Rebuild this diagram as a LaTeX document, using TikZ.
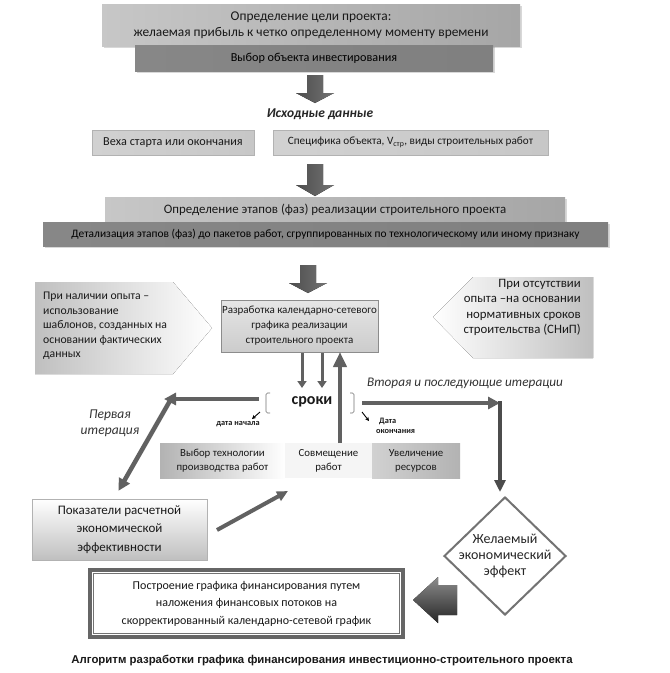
\documentclass[tikz,border=0pt]{standalone}
\usepackage{fontspec}
\setmainfont{Carlito}
\newfontfamily\capfont{Liberation Sans}
\usetikzlibrary{shapes.geometric,arrows.meta,shadows,calc}
\newcommand\blkdown[4]{%
  \fill[blkarrow] (#1-8,#2) -- (#1+8,#2) -- (#1+8,#3-#4) -- (#1+19,#3-#4) -- (#1,#3) -- (#1-19,#3-#4) -- (#1-8,#3-#4) -- cycle;}
\begin{document}
\begin{tikzpicture}[x=1pt,y=-1pt,
  box/.style={rectangle, inner sep=0pt, align=center, text=black!90},
  lightbox/.style={box, left color=black!22, middle color=white, right color=black!35},
  darkbox/.style={box, left color=black!47, middle color=black!24, right color=black!50, text=black},
  fbox/.style={box, draw=black!30, left color=black!18, middle color=white!95!black, right color=black!22},
  shad/.style={drop shadow={opacity=0.3, shadow xshift=2pt, shadow yshift=-2pt}},
  blkarrow/.style={left color=black!70, right color=black!55},
  conn/.style={draw=black!62, line width=4.5pt, -{Triangle[length=12pt,width=12pt]}},
  thinarr/.style={draw=black!62, line width=3pt, -{Triangle[length=7pt,width=9pt]}},
  tiny/.style={font=\bfseries\fontsize{8.3}{10.5}\selectfont, text=black!90, align=left, inner sep=0pt},
]
\useasboundingbox (0,0) rectangle (670,673);
\fill[white] (0,0) rectangle (670,673);

% top
\node[lightbox, shad, minimum width=418, minimum height=42, font=\fontsize{13.4}{16.5}\selectfont] (goal) at (311,25)
  {Определение цели проекта:\\желаемая прибыль к четко определенному моменту времени};
\node[darkbox, shad, minimum width=358, minimum height=26, font=\fontsize{12.2}{14}\selectfont] (obj) at (314,58)
  {Выбор объекта инвестирования};

\blkdown{315}{75}{103}{10}
\node[font=\bfseries\itshape\fontsize{13.5}{15}\selectfont, text=black!85] (src) at (320,114) {Исходные данные};

\node[fbox, minimum width=162, minimum height=25, font=\fontsize{12.2}{14}\selectfont] (veha) at (173,142.5) {Веха старта или окончания};
\node[fbox, minimum width=275, minimum height=25, font=\fontsize{11.2}{13}\selectfont] (spec) at (410.5,142.5) {Специфика объекта, V\textsubscript{стр}, виды строительных работ};

\blkdown{315}{164}{196}{11}

\node[lightbox, shad, minimum width=460, minimum height=25, font=\fontsize{12.9}{15}\selectfont] (stages) at (335,209.5)
  {Определение этапов (фаз) реализации строительного проекта};
\node[darkbox, shad, minimum width=565, minimum height=24, font=\fontsize{11.4}{13}\selectfont] (detail) at (325.5,234)
  {Детализация этапов (фаз) до пакетов работ, сгруппированных по технологическому или иному признаку};

\blkdown{308}{265}{293}{10}

% pentagons
\fill[left color=black!25, right color=white] (35,282) -- (173,282) -- (212,328) -- (173,374) -- (35,374) -- cycle;
\node[anchor=north west, align=left, inner sep=0pt, font=\fontsize{11.7}{14.5}\selectfont, text=black!90] (expL) at (43,292)
  {При наличии опыта –\\использование\\шаблонов, созданных на\\основании фактических\\данных};
\fill[left color=white, right color=black!25] (433,317) -- (473,277) -- (593,277) -- (593,358) -- (473,358) -- cycle;
\node[anchor=north east, align=right, inner sep=0pt, font=\fontsize{12.8}{15.5}\selectfont, text=black!90] (expR) at (581,279)
  {При отсутствии\\опыта –на основании\\нормативных сроков\\строительства (СНиП)};

% plan box
\node[box, draw=black!45, top color=white!90!black, bottom color=black!20, minimum width=157, minimum height=52, font=\fontsize{11}{15}\selectfont] (plan) at (299.5,326)
  {Разработка календарно-сетевого\\графика реализации\\строительного проекта};

% sroki
\node[font=\bfseries\fontsize{16}{18}\selectfont, text=black!90] (sroki) at (312,402) {сроки};
\draw[black!55, line width=0.6pt, rounded corners=1.5pt] (270,393) -- (266,393) -- (266,413) -- (270,413);
\draw[black!55, line width=0.6pt, rounded corners=1.5pt] (350,393) -- (354,393) -- (354,413) -- (350,413);

\coordinate (a1t) at (302,353); \coordinate (a1b) at (302,388);
\coordinate (a2t) at (322,353); \coordinate (a2b) at (322,388);
\draw[thinarr] (a1t) -- (a1b);
\draw[thinarr] (a2t) -- (a2b);

% three boxes
\node[box, left color=black!30, right color=white, minimum width=125, minimum height=35, font=\fontsize{10.8}{14}\selectfont] (tech) at (222.5,460.5)
  {Выбор технологии\\производства работ};
\node[box, fill=white!96!black, minimum width=87, minimum height=35, font=\fontsize{10.8}{14}\selectfont] (comb) at (328.5,460.5)
  {Совмещение\\работ};
\node[box, left color=black!18, right color=black!30, minimum width=88, minimum height=35, font=\fontsize{10.8}{14}\selectfont] (res) at (416,460.5)
  {Увеличение\\ресурсов};

\coordinate (upb) at (340,443); \coordinate (upt) at (340,352);
\draw[draw=black!62, line width=4pt, -{Triangle[length=15pt,width=13pt]}] (upb) -- (upt);

% left iteration
\coordinate (sl) at (259,399);
\coordinate (lc) at (164,399);
\coordinate (lcs) at (171,399);
\node[box, draw=black!30, top color=white, bottom color=black!25, minimum width=175, minimum height=61, font=\fontsize{13}{18.5}\selectfont] (pok) at (119.5,529.5)
  {Показатели расчетной\\экономической\\эффективности};
\draw[conn] (sl) -- (lc);
\draw[conn] (lcs) -- ($(pok.north)+(-1,-8)$);
\node[font=\itshape\fontsize{13.5}{16}\selectfont, text=black!80, align=center] (it1) at (110,423) {Первая\\итерация};
\node[tiny] (dn) at (238,424) {дата начала};
\coordinate (dnA) at (260,412); \coordinate (dnB) at (252,419);
\draw[black, line width=0.9pt, -{Stealth[length=4pt,width=4pt]}] (dnA) -- (dnB);

% right iteration
\coordinate (sr) at (362,403);
\coordinate (rc) at (500,403);
\coordinate (rcs) at (500,401);
\node[diamond, draw=black!55, line width=2pt, fill=white, aspect=1, inner sep=-8pt, minimum width=122, minimum height=118, align=center, font=\fontsize{14}{15.8}\selectfont, text=black!85] (des) at (505,556)
  {Желаемый\\экономический\\эффект};
\draw[conn] (sr) -- (rc);
\draw[draw=black!70, line width=4pt, -{Triangle[length=12pt,width=11pt]}] (rcs) -- ($(des.north)+(-5,-4)$);
\node[font=\itshape\fontsize{13.2}{15}\selectfont, text=black!80] (it2) at (465,383) {Вторая и последующие итерации};
\node[tiny, anchor=west] (dk) at (376,426) {\hspace*{3pt}Дата\\окончания};
\coordinate (dkA) at (362,412); \coordinate (dkB) at (369,421);
\draw[black, line width=0.9pt, -{Stealth[length=4pt,width=4pt]}] (dkA) -- (dkB);

% pokazateli -> diamond direction arrow
\coordinate (pa) at (217,530); \coordinate (pb) at (288,491);
\draw[draw=black!62, line width=4pt, -{Triangle[length=11pt,width=10pt]}] (pa) -- (pb);

% final box
\node[box, draw=black!60, line width=3.5pt, fill=white, minimum width=313, minimum height=67, font=\fontsize{12}{17.5}\selectfont] (fin) at (246.5,603.5)
  {Построение графика финансирования путем\\наложения финансовых потоков на\\скорректированный календарно-сетевой график};
\draw[black!55, line width=0.8pt] ([shift={(5,5)}]fin.north west) rectangle ([shift={(-5,-5)}]fin.south east);

% left block arrow
\fill[top color=black!45, bottom color=black!85] (413,600) -- (438,577) -- (438,585) -- (457,585) -- (457,615) -- (438,615) -- (438,623) -- cycle;

% caption
\node[font=\capfont\bfseries\fontsize{11.4}{13}\selectfont, text=black!90] (cap) at (322,660)
  {Алгоритм разработки графика финансирования инвестиционно-строительного проекта};
\end{tikzpicture}
\end{document}
